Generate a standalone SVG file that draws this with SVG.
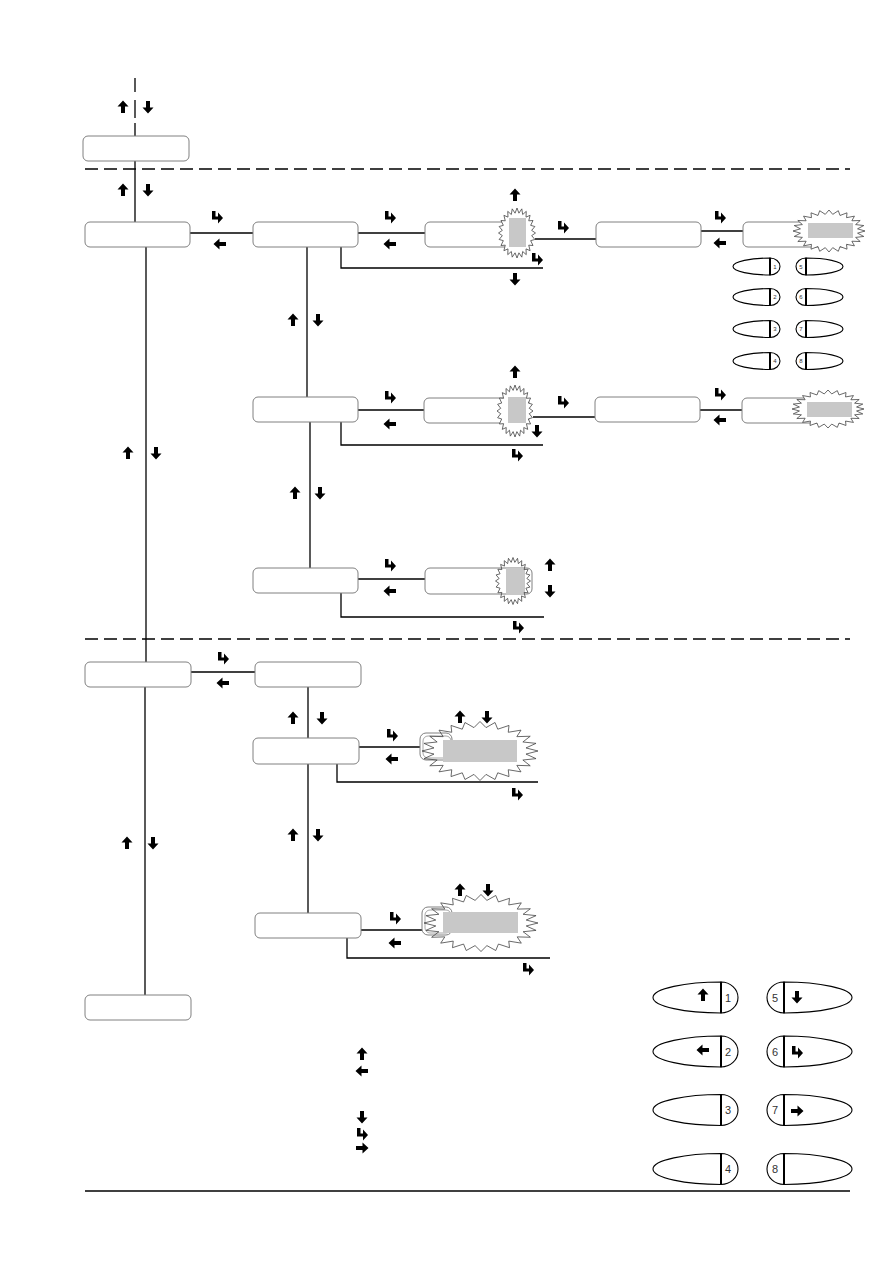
<svg xmlns="http://www.w3.org/2000/svg" xmlns:xlink="http://www.w3.org/1999/xlink" width="893" height="1263" viewBox="0 0 893 1263">
<style>
.bx{fill:#fff;stroke:#808080;stroke-width:1}
.bx2{fill:none;stroke:#909090;stroke-width:0.8}
.ln{fill:none;stroke:#000;stroke-width:1.3}
.dash{fill:none;stroke:#000;stroke-width:1.3;stroke-dasharray:13,6}
.ic{fill:#000}
.st{fill:#fff;stroke:#444;stroke-width:0.8}
.stn{fill:none;stroke:#444;stroke-width:0.8}
.gr{fill:#c8c8c8}
.bt{fill:#fff;stroke:#000;stroke-width:1.1}
.dv{stroke:#000;stroke-width:2}
.num{font-family:"Liberation Sans",Arial,sans-serif;fill:#333}
</style>
<defs>
<path id="up" class="ic" d="M0,-6.5 L5.5,-0.5 L2,-0.5 L2,6 L-2,6 L-2,-0.5 L-5.5,-0.5 Z"/>
<path id="dn" class="ic" d="M0,6.5 L5.5,0.5 L2,0.5 L2,-6 L-2,-6 L-2,0.5 L-5.5,0.5 Z"/>
<path id="lf" class="ic" d="M-6.5,0 L-0.5,-5.5 L-0.5,-2 L6,-2 L6,2 L-0.5,2 L-0.5,5.5 Z"/>
<path id="rt" class="ic" d="M6.5,0 L0.5,-5.5 L0.5,-2 L-6,-2 L-6,2 L0.5,2 L0.5,5.5 Z"/>
<path id="en" class="ic" d="M-5,-6 L-1.5,-6 L-1.5,-0.5 L1,-0.5 L1,-4.5 L6,1 L1,6.5 L1,2.5 L-5,2.5 Z"/>
<polygon id="star" vector-effect="non-scaling-stroke" points="1,0 0.793,0.104 0.966,0.259 0.739,0.306 0.866,0.5 0.635,0.487 0.707,0.707 0.487,0.635 0.5,0.866 0.306,0.739 0.259,0.966 0.104,0.793 0,1 -0.104,0.793 -0.259,0.966 -0.306,0.739 -0.5,0.866 -0.487,0.635 -0.707,0.707 -0.635,0.487 -0.866,0.5 -0.739,0.306 -0.966,0.259 -0.793,0.104 -1,0 -0.793,-0.104 -0.966,-0.259 -0.739,-0.306 -0.866,-0.5 -0.635,-0.487 -0.707,-0.707 -0.487,-0.635 -0.5,-0.866 -0.306,-0.739 -0.259,-0.966 -0.104,-0.793 0,-1 0.104,-0.793 0.259,-0.966 0.306,-0.739 0.5,-0.866 0.487,-0.635 0.707,-0.707 0.635,-0.487 0.866,-0.5 0.739,-0.306 0.966,-0.259 0.793,-0.104"/>
<g id="bigbtn">
<path class="bt" d="M0,-15.5 C-35,-15.5 -68,-9 -68,0 C-68,9 -35,15.5 0,15.5 Z"/>
<path class="bt" d="M0,-15.5 A17,15.5 0 0 1 0,15.5 Z"/>
<path class="dv" d="M0,-15.5 V15.5"/>
</g>
<g id="smbtn">
<path class="bt" stroke-width="0.8" d="M0,-8.5 C-19,-8.5 -37,-5 -37,0 C-37,5 -19,8.5 0,8.5 Z"/>
<path class="bt" stroke-width="0.8" d="M0,-8.5 A10,8.5 0 0 1 0,8.5 Z"/>
<path class="dv" stroke-width="1.4" d="M0,-8.5 V8.5"/>
</g>
</defs>

<g id="connectors">
<path class="ln" d="M135,78 V92 M135,100 V118 M135,123 V136"/>
<path class="ln" d="M135,160 V222"/>
<path class="dash" d="M85,169 H850"/>
<path class="ln" d="M190,233 H253"/>
<path class="ln" d="M146,247 V662"/>
<path class="ln" d="M358,233 H425"/>
<path class="ln" d="M341,247 V268 H543"/>
<path class="ln" d="M535,239 H596"/>
<path class="ln" d="M701,231 H743"/>
<path class="ln" d="M307,247 V397"/>
<path class="ln" d="M358,410 H424"/>
<path class="ln" d="M341,422 V445 H543"/>
<path class="ln" d="M533,417 H595"/>
<path class="ln" d="M700,410 H742"/>
<path class="ln" d="M310,422 V568"/>
<path class="ln" d="M358,579 H425"/>
<path class="ln" d="M341,593 V617 H544"/>
<path class="dash" d="M85,639 H850"/>
<path class="ln" d="M191,672 H255"/>
<path class="ln" d="M145,687 V995"/>
<path class="ln" d="M308,687 V738"/>
<path class="ln" d="M308,764 V913"/>
<path class="ln" d="M359,747 H420"/>
<path class="ln" d="M337,764 V782 H538"/>
<path class="ln" d="M361,930 H422"/>
<path class="ln" d="M347,938 V958 H550"/>
<path class="ln" d="M85,1191 H850"/>
</g>

<g id="n-top"><rect class="bx" x="83" y="136" width="106" height="25" rx="5"/></g>
<g id="n-A"><rect class="bx" x="85" y="222" width="105" height="25" rx="5"/></g>
<g id="n-B"><rect class="bx" x="253" y="222" width="105" height="25" rx="5"/></g>
<g id="n-B2"><rect class="bx" x="425" y="222" width="105" height="25" rx="5"/>
<use href="#star" class="st" transform="translate(517,233) scale(18.5,25)"/>
<rect class="gr" x="509" y="218" width="17" height="29"/></g>
<g id="n-B3"><rect class="bx" x="596" y="222" width="105" height="25" rx="5"/></g>
<g id="n-B4"><rect class="bx" x="743" y="222" width="105" height="25" rx="5"/>
<use href="#star" class="st" transform="translate(829,231) scale(36,21)"/>
<rect class="gr" x="808" y="223" width="45" height="15"/></g>
<g id="n-D"><rect class="bx" x="253" y="397" width="105" height="25" rx="5"/></g>
<g id="n-D2"><rect class="bx" x="424" y="398" width="105" height="25" rx="5"/>
<use href="#star" class="st" transform="translate(515,411) scale(18,26)"/>
<rect class="gr" x="508" y="397" width="18" height="26"/></g>
<g id="n-D3"><rect class="bx" x="595" y="397" width="105" height="25" rx="5"/></g>
<g id="n-D4"><rect class="bx" x="742" y="398" width="105" height="25" rx="5"/>
<use href="#star" class="st" transform="translate(828,409) scale(36,19)"/>
<rect class="gr" x="807" y="402" width="45" height="15"/></g>
<g id="n-E"><rect class="bx" x="253" y="568" width="105" height="25" rx="5"/></g>
<g id="n-E2"><rect class="bx" x="425" y="568" width="107" height="26" rx="5"/>
<rect class="gr" x="506" y="568" width="19" height="27"/>
<use href="#star" class="stn" transform="translate(513,581) scale(17.5,23.5)"/></g>
<g id="n-C"><rect class="bx" x="85" y="662" width="106" height="25" rx="5"/></g>
<g id="n-F"><rect class="bx" x="255" y="662" width="106" height="25" rx="5"/></g>
<g id="n-G"><rect class="bx" x="253" y="738" width="106" height="26" rx="5"/></g>
<g id="n-G2"><rect class="bx" x="420" y="733" width="32" height="27" rx="6"/>
<rect class="bx2" x="423" y="736" width="28" height="22" rx="5"/>
<use href="#star" class="stn" transform="translate(480,751) scale(58,29.5)"/>
<rect class="gr" x="443" y="740" width="74" height="22"/></g>
<g id="n-H"><rect class="bx" x="255" y="913" width="106" height="25" rx="5"/></g>
<g id="n-H2"><rect class="bx" x="422" y="907" width="30" height="28" rx="6"/>
<rect class="bx2" x="425" y="910" width="26" height="23" rx="5"/>
<use href="#star" class="stn" transform="translate(481,923) scale(57,28.5)"/>
<rect class="gr" x="443" y="912" width="75" height="21"/></g>
<g id="n-I"><rect class="bx" x="85" y="995" width="106" height="25" rx="5"/></g>

<g id="arrows">
<use href="#up" x="123" y="107"/><use href="#dn" x="148" y="107"/>
<use href="#up" x="123" y="190"/><use href="#dn" x="148" y="190"/>
<use href="#up" x="293" y="320"/><use href="#dn" x="318" y="320"/>
<use href="#up" x="128" y="453"/><use href="#dn" x="156" y="453"/>
<use href="#up" x="295" y="493"/><use href="#dn" x="320" y="493"/>
<use href="#up" x="293" y="718"/><use href="#dn" x="322" y="718"/>
<use href="#up" x="293" y="835"/><use href="#dn" x="318" y="835"/>
<use href="#up" x="127" y="843"/><use href="#dn" x="153" y="843"/>
<use href="#up" x="460" y="717"/><use href="#dn" x="487" y="717"/>
<use href="#up" x="460" y="890"/><use href="#dn" x="488" y="890"/>
<use href="#up" x="515" y="195"/><use href="#dn" x="515" y="279"/>
<use href="#up" x="515" y="372"/><use href="#dn" x="537" y="431"/>
<use href="#up" x="550" y="565"/><use href="#dn" x="550" y="591"/>
<use href="#en" x="217" y="217"/><use href="#lf" x="220" y="244"/>
<use href="#en" x="390" y="217"/><use href="#lf" x="390" y="244"/>
<use href="#en" x="537" y="259"/>
<use href="#en" x="563" y="227"/>
<use href="#en" x="720" y="217"/><use href="#lf" x="720" y="243"/>
<use href="#en" x="390" y="397"/><use href="#lf" x="390" y="424"/>
<use href="#en" x="517" y="455"/>
<use href="#en" x="563" y="402"/>
<use href="#en" x="720" y="394"/><use href="#lf" x="720" y="420"/>
<use href="#en" x="390" y="565"/><use href="#lf" x="390" y="591"/>
<use href="#en" x="518" y="627"/>
<use href="#en" x="223" y="658"/><use href="#lf" x="223" y="683"/>
<use href="#en" x="392" y="735"/><use href="#lf" x="392" y="759"/>
<use href="#en" x="517" y="794"/>
<use href="#en" x="395" y="918"/><use href="#lf" x="395" y="943"/>
<use href="#en" x="528" y="969"/>
<use href="#up" x="362" y="1054"/><use href="#lf" x="362" y="1071"/>
<use href="#dn" x="362" y="1117"/><use href="#en" x="362" y="1134"/><use href="#rt" x="362" y="1148"/>
</g>

<g id="small-keypad">
<use href="#smbtn" transform="translate(770,266.5)"/>
<use href="#smbtn" transform="translate(770,297)"/>
<use href="#smbtn" transform="translate(770,329)"/>
<use href="#smbtn" transform="translate(770,361)"/>
<use href="#smbtn" transform="translate(806,266.5) scale(-1,1)"/>
<use href="#smbtn" transform="translate(806,297) scale(-1,1)"/>
<use href="#smbtn" transform="translate(806,329) scale(-1,1)"/>
<use href="#smbtn" transform="translate(806,361) scale(-1,1)"/>
<g class="num" font-size="6" text-anchor="middle">
<text x="775" y="268.5">1</text><text x="775" y="299">2</text><text x="775" y="331">3</text><text x="775" y="363">4</text>
<text x="801" y="268.5">5</text><text x="801" y="299">6</text><text x="801" y="331">7</text><text x="801" y="363">8</text>
</g>
</g>

<g id="keypad">
<use href="#bigbtn" transform="translate(721,997.5)"/>
<use href="#bigbtn" transform="translate(721,1051.5)"/>
<use href="#bigbtn" transform="translate(721,1110)"/>
<use href="#bigbtn" transform="translate(721,1169)"/>
<use href="#bigbtn" transform="translate(784,997.5) scale(-1,1)"/>
<use href="#bigbtn" transform="translate(784,1051.5) scale(-1,1)"/>
<use href="#bigbtn" transform="translate(784,1110) scale(-1,1)"/>
<use href="#bigbtn" transform="translate(784,1169) scale(-1,1)"/>
<g class="num" font-size="11" text-anchor="middle">
<text x="728" y="1001.5">1</text><text x="728" y="1055.5">2</text><text x="728" y="1114">3</text><text x="728" y="1173">4</text>
<text x="775" y="1001.5">5</text><text x="775" y="1055.5">6</text><text x="775" y="1114">7</text><text x="775" y="1173">8</text>
</g>
<use href="#up" x="703" y="995"/>
<use href="#lf" x="703" y="1050"/>
<use href="#dn" x="797" y="997"/>
<use href="#en" x="797" y="1052"/>
<use href="#rt" x="797" y="1111"/>
</g>
</svg>
